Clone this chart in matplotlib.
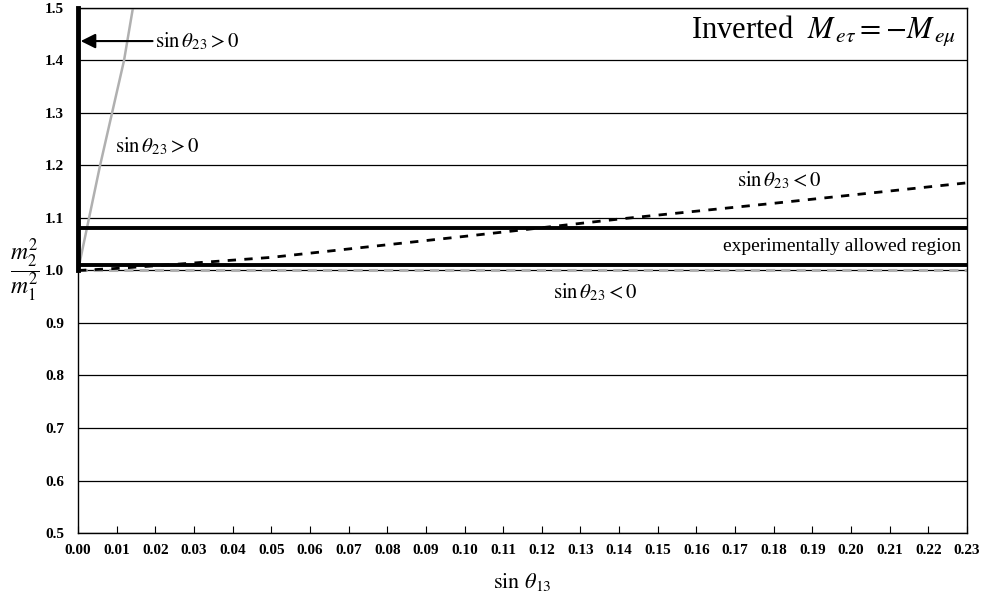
import numpy as np
import matplotlib
matplotlib.use("Agg")
import matplotlib.pyplot as plt

plt.rcParams['font.family'] = ['Liberation Serif', 'DejaVu Serif']
plt.rcParams['mathtext.fontset'] = 'stix'

# grey solid curve (sin th23 > 0 branch)
gx_pos = [0.0, 0.0057, 0.0119, 0.0142]
gy_pos = [1.0, 1.2, 1.4, 1.5]
# black dashed curve (sin th23 < 0 branch)
bx_neg = [0.0, 0.01, 0.02, 0.05, 0.10, 0.14, 0.18, 0.23]
by_neg = [1.0, 1.004, 1.009, 1.025, 1.065, 1.098, 1.128, 1.167]
# grey dashed line near 1.0
gx_neg = [0.0, 0.23]
gy_neg = [1.0, 1.0]
# experimentally allowed band
band_lo = 1.01
band_hi = 1.08

xticks = np.round(np.arange(0, 0.2301, 0.01), 2)
yticks = np.round(np.arange(0.5, 1.501, 0.1), 1)

fig = plt.figure(figsize=(9.84, 6.05), dpi=100)
ax = fig.add_axes([0.0793, 0.119, 0.9034, 0.8678])

for y in yticks:
    ax.axhline(y, color='black', lw=0.9, zorder=1)

ax.plot(gx_neg, gy_neg, color='#b0b0b0', lw=2.2, ls=(0, (3, 2)), zorder=2)
ax.plot(gx_pos, gy_pos, color='#b0b0b0', lw=1.8, zorder=2)
ax.plot(bx_neg, by_neg, color='black', lw=2, ls=(0, (3, 3)), zorder=3)
ax.axhline(band_lo, color='black', lw=2.8, zorder=4)
ax.axhline(band_hi, color='black', lw=2.8, zorder=4)
ax.plot([0, 0], [1.0, 1.5], color='black', lw=3.5, zorder=5, clip_on=False)

ax.set_xlim(0, 0.23)
ax.set_ylim(0.5, 1.5)
ax.set_xticks(xticks)
ax.set_xticklabels(['%.2f' % v for v in xticks], fontweight='bold', fontsize=11)
ax.set_yticks(yticks)
ax.set_yticklabels(['%.1f' % v for v in yticks], fontweight='bold', fontsize=11)
ax.tick_params(axis='x', direction='in', length=5, width=0.8, pad=8)
ax.tick_params(axis='y', length=0, pad=10)
for s in ax.spines.values():
    s.set_linewidth(1.0)

ax.set_xlabel(r'$\sin\,\theta_{13}$', fontsize=16, labelpad=10)
ax.set_ylabel(r'$\dfrac{m_2^2}{m_1^2}$', fontsize=17, rotation=0,
              va='center', ha='center')
ax.yaxis.set_label_coords(-0.06, 0.5)

ax.annotate(r'$\sin\theta_{23}>0$', xy=(0.0007, 1.437), xytext=(0.02, 1.437),
            fontsize=15, va='center', ha='left',
            arrowprops=dict(arrowstyle='-|>', color='black', lw=1.5,
                            mutation_scale=22, shrinkA=0, shrinkB=0))
ax.text(0.0095, 1.237, r'$\sin\theta_{23}>0$', fontsize=15, va='center')
ax.text(0.1705, 1.172, r'$\sin\theta_{23}<0$', fontsize=15, va='center')
ax.text(0.2285, 1.046, 'experimentally allowed region', fontsize=14,
        va='center', ha='right')
ax.text(0.123, 0.958, r'$\sin\theta_{23}<0$', fontsize=15, va='center')
ax.text(0.2272, 1.455, r'Inverted  $M_{\,e\tau}=-M_{\,e\mu}$', fontsize=22,
        ha='right', va='center')

fig.savefig('out.png', dpi=100)
